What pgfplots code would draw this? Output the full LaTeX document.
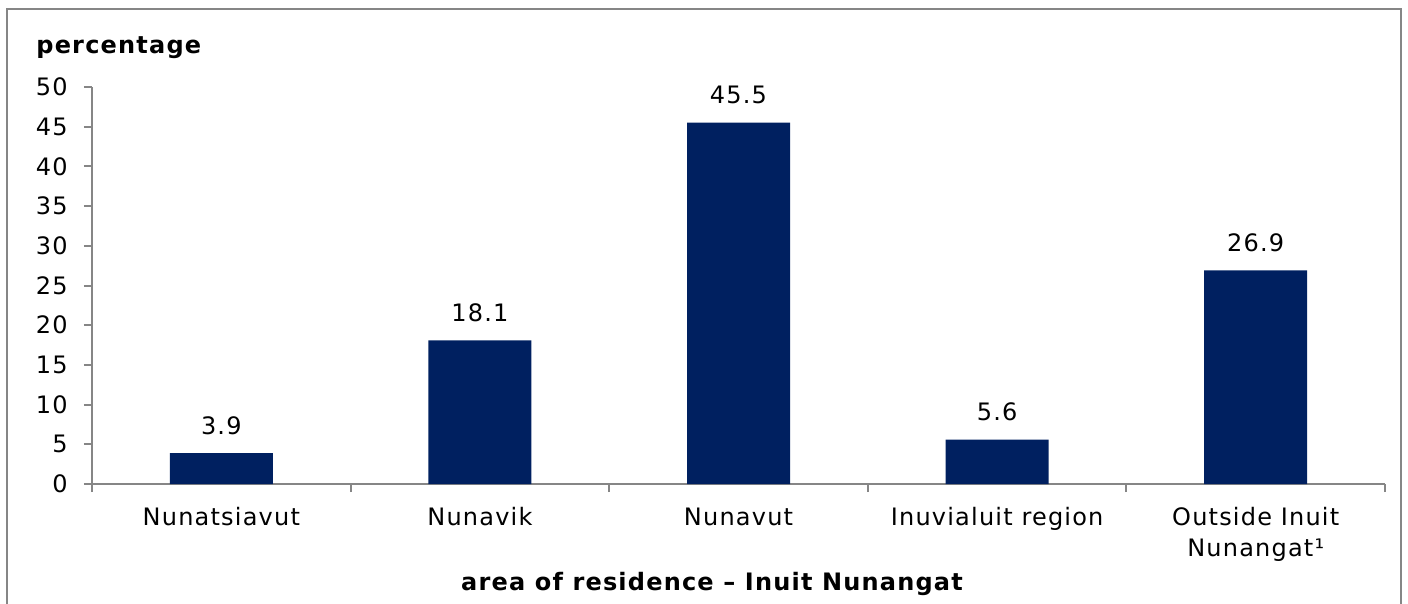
\documentclass[border=0pt]{standalone}
\usepackage{fontspec}
\setmainfont[LetterSpace=5]{DejaVu Sans}
\usepackage{pgfplots}
\pgfplotsset{compat=1.18}
\definecolor{barblue}{RGB}{0,32,96}
\definecolor{axgray}{RGB}{134,134,134}
\newcommand{\lblfont}{\fontsize{12}{15.5}\selectfont}
\begin{document}
\lblfont
\begin{tikzpicture}
\useasboundingbox (0,0) rectangle (704pt,-302pt);
\draw[axgray, line width=1pt] (3.5pt,-4.5pt) rectangle (700.5pt,-303pt);
\begin{axis}[
  at={(46pt,-242pt)}, anchor=south west,
  scale only axis, width=646.5pt, height=198.5pt,
  xmin=-0.5, xmax=4.5, ymin=0, ymax=50,
  ytick={0,5,...,50},
  xtick={0,1,2,3,4},
  xticklabels={Nunatsiavut, Nunavik, Nunavut, Inuvialuit region, {\begin{tabular}[t]{@{}c@{}}Outside Inuit\\Nunangat¹\end{tabular}}},
  xticklabel style={font=\lblfont, anchor=base, yshift=-16.5pt},
  yticklabel style={font=\lblfont, xshift=-4pt},
  major x tick style={draw=none},
  minor xtick={-0.5,0.5,1.5,2.5,3.5,4.5},
  axis x line*=bottom, axis y line*=left,
  axis line style={axgray, line width=1pt, -},
  tick style={axgray, line width=1pt},
  tick align=outside, major tick length=4pt, minor tick length=4pt,
  /pgf/number format/assume math mode=true,
  ybar, bar width=51.5pt,
  nodes near coords,
  nodes near coords style={anchor=base, yshift=9.5pt, font=\lblfont,
    /pgf/number format/.cd, fixed, precision=1, fixed zerofill, assume math mode=true},
]
\addplot[fill=barblue, draw=none] coordinates {(0,3.9) (1,18.1) (2,45.5) (3,5.6) (4,26.9)};
\end{axis}
\node[anchor=base west, font=\bfseries\lblfont] at (14pt,-27pt) {percentage};
\node[anchor=base, font=\bfseries\lblfont] at (356pt,-295pt) {area of residence – Inuit Nunangat};
\end{tikzpicture}
\end{document}
